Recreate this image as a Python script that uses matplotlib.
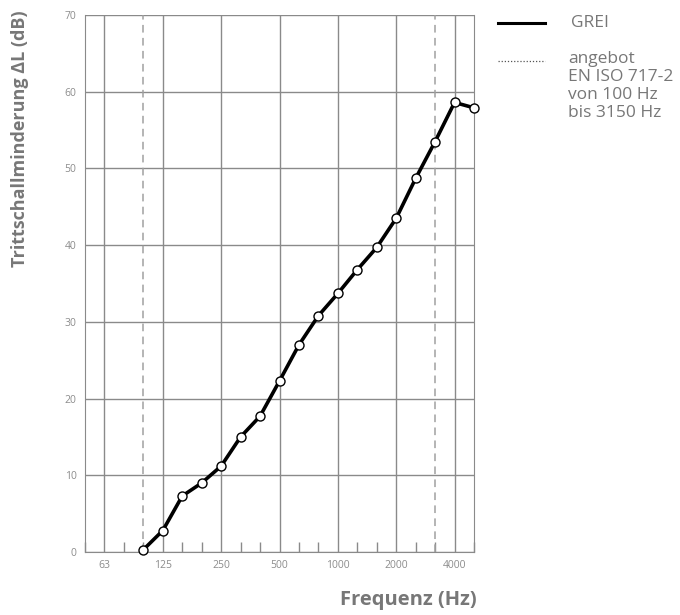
import numpy as np
import matplotlib
matplotlib.use("Agg")
from matplotlib import pyplot as plt

# third-octave bands shown on the axis (50 Hz .. 5000 Hz)
bands = [50, 63, 80, 100, 125, 160, 200, 250, 315, 400, 500, 630, 800,
         1000, 1250, 1600, 2000, 2500, 3150, 4000, 5000]
tick_labels = ["63", "125", "250", "500", "1000", "2000", "4000"]

# measured values GREI, 100 Hz .. 5000 Hz
freq = [100, 125, 160, 200, 250, 315, 400, 500, 630, 800, 1000, 1250,
        1600, 2000, 2500, 3150, 4000, 5000]
delta_l = [0.3, 2.8, 7.3, 9.0, 11.2, 15.0, 17.7, 22.3, 27.0, 30.8, 33.7,
           36.8, 39.7, 43.5, 48.7, 53.5, 58.6, 57.9]

range_limits = [100, 3150]

grey = "#8a8a8a"
text_grey = "#777777"
plt.rcParams["font.family"] = ["Open Sans", "DejaVu Sans"]


def idx(f):
    return bands.index(f)


def main():
    fig = plt.figure(figsize=(6.8, 6.15), dpi=100)
    ax = fig.add_axes([85 / 680, 1 - 552 / 615, 389 / 680, 537 / 615])

    x = [idx(f) for f in freq]
    ax.plot(x, delta_l, color="black", lw=2.6, marker="o", ms=6.5,
            mfc="white", mec="black", mew=1.0, zorder=5, clip_on=False)

    for f in range_limits:
        ax.axvline(idx(f), color="#a0a0a0", lw=1.1, ls=(0, (5, 3.5)), zorder=2)

    ax.set_xlim(0, len(bands) - 1)
    ax.set_ylim(0, 70)

    major = [idx(int(t)) for t in tick_labels]
    ax.set_xticks(major)
    ax.set_xticklabels(tick_labels)
    ax.set_xticks([i for i in range(len(bands)) if i not in major], minor=True)
    ax.set_yticks(np.arange(0, 71, 10))

    ax.grid(True, which="major", color=grey, lw=1.0, zorder=1)
    ax.tick_params(axis="both", which="both", colors=grey, labelcolor="#8c8c8c",
                   labelsize=7.5)
    ax.tick_params(axis="x", which="major", length=0, pad=6)
    ax.tick_params(axis="x", which="minor", length=7, direction="in", width=1)
    ax.tick_params(axis="y", length=0, pad=6)
    for s in ax.spines.values():
        s.set_color(grey)
    ax.spines["top"].set_visible(False)

    fig.text(20 / 680, 1 - 139 / 615, "Trittschallminderung \u0394L (dB)",
             rotation=90, ha="center", va="center", fontsize=13,
             fontweight="bold", color=text_grey)
    fig.text(477 / 680, 1 - 600 / 615, "Frequenz (Hz)", ha="right",
             va="center", fontsize=14.5, fontweight="bold", color=text_grey)

    # legend drawn by hand
    fig.add_artist(plt.Line2D([498 / 680, 545 / 680], [1 - 23 / 615] * 2,
                              color="black", lw=2.2))
    fig.add_artist(plt.Line2D([498 / 680, 545 / 680], [1 - 61 / 615] * 2,
                              color="#555555", lw=0.9, ls=(0, (1, 1.5))))
    fig.text(571 / 680, 1 - 23 / 615, "GREI", ha="left", va="center",
             fontsize=12.5, color=text_grey)
    fig.text(568 / 680, 1 - 51 / 615,
             "angebot\nEN ISO 717-2\nvon 100 Hz\nbis 3150 Hz",
             ha="left", va="top", fontsize=12.5, color=text_grey,
             linespacing=1.16)

    fig.savefig("out.png", dpi=100)


if __name__ == "__main__":
    main()
